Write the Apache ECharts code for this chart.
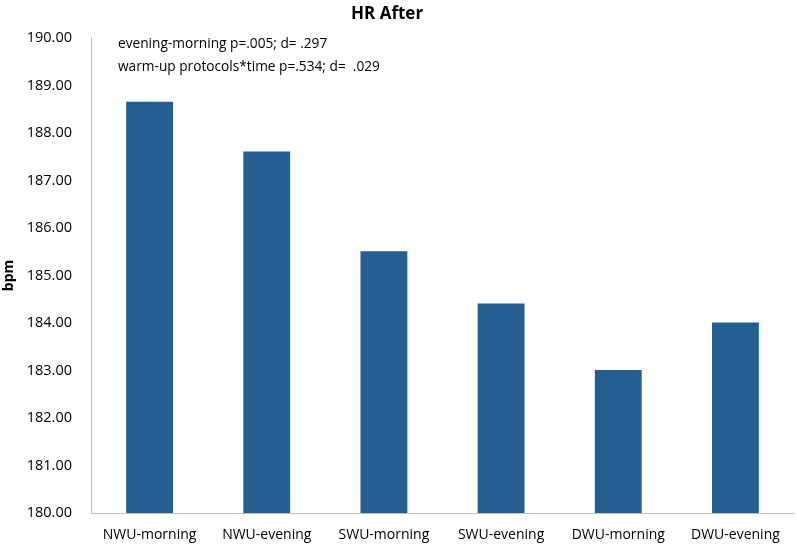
<!DOCTYPE html>
<html>
<head>
<meta charset="utf-8">
<script src="https://cdn.jsdelivr.net/npm/echarts@6/dist/echarts.min.js"></script>
<style>html,body{margin:0;padding:0;background:#fff}#c{width:797px;height:544px}</style>
</head>
<body>
<div id="c"></div>
<script>
const categories = ['NWU-morning','NWU-evening','SWU-morning','SWU-evening','DWU-morning','DWU-evening'];
const hrAfter = [188.66, 187.61, 185.51, 184.41, 183.01, 184.01];
const yTicks = {min: 180, max: 190, interval: 1};
const notes = ['evening-morning p=.005; d= .297', 'warm-up protocols*time p=.534; d=  .029'];

const font = "'Open Sans', 'Liberation Sans', sans-serif";
const chart = echarts.init(document.getElementById('c'));
chart.setOption({
  animation: false,
  title: {
    text: 'HR After', left: 346, top: 1,
    textStyle: {fontSize: 17, fontWeight: 'bold', color: '#000', fontFamily: font}
  },
  grid: {left: 91, right: 3, top: 38, bottom: 31, outerBoundsMode: 'none', containLabel: false},
  graphic: [
    {type: 'text', left: 118, top: 37, style: {text: notes[0], font: "13.7px 'Open Sans', sans-serif", fill: '#000'}},
    {type: 'text', left: 118, top: 60, style: {text: notes[1], font: "13.7px 'Open Sans', sans-serif", fill: '#000'}}
  ],
  xAxis: {
    type: 'category', data: categories,
    axisLine: {lineStyle: {color: '#bfbfbf', width: 1}},
    axisTick: {show: false},
    axisLabel: {color: '#000', fontSize: 14, margin: 15, fontFamily: font, interval: 0}
  },
  yAxis: {
    type: 'value', min: yTicks.min, max: yTicks.max, interval: yTicks.interval,
    name: 'bpm', nameLocation: 'middle', nameGap: 73, nameRotate: 90,
    nameTextStyle: {fontSize: 14, fontWeight: 'bold', color: '#000', fontFamily: font},
    axisLine: {show: true, lineStyle: {color: '#bfbfbf', width: 1}},
    axisTick: {show: false},
    splitLine: {show: false},
    axisLabel: {color: '#000', fontSize: 14.5, margin: 19, fontFamily: font, formatter: v => v.toFixed(2)}
  },
  series: [{
    type: 'bar', data: hrAfter, barWidth: '40%',
    itemStyle: {color: '#255E91'}
  }]
});
</script>
</body>
</html>
